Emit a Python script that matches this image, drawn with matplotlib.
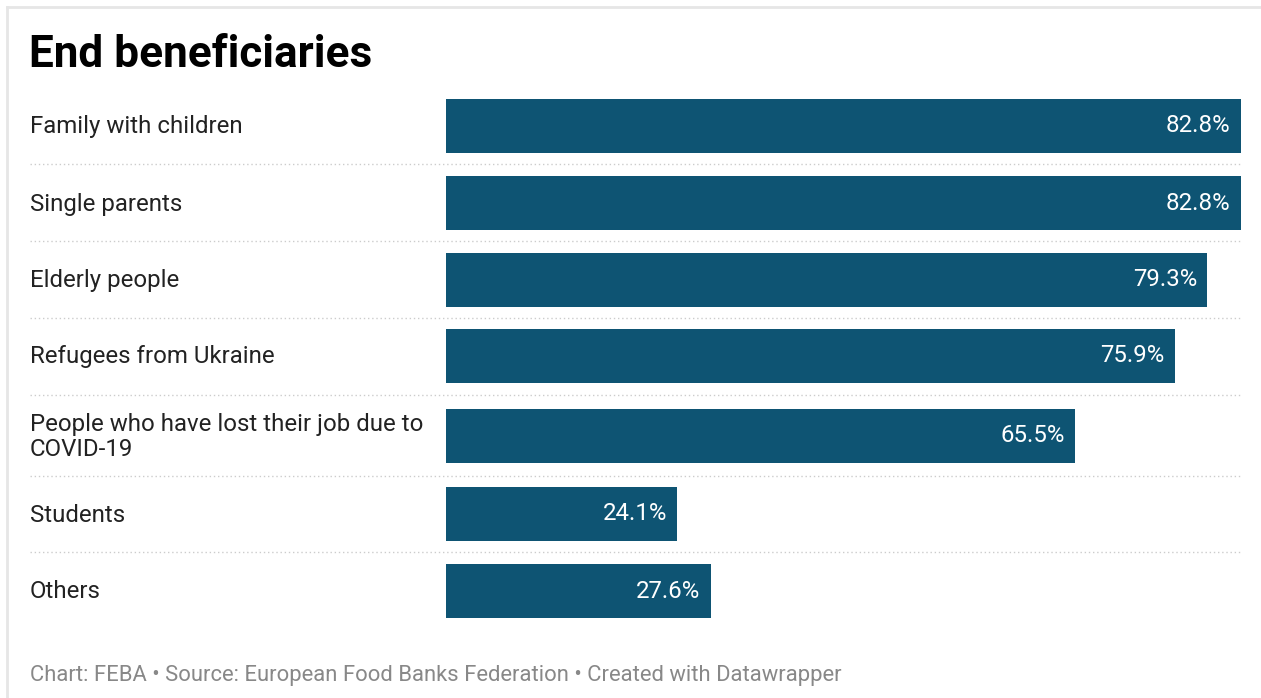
import matplotlib
matplotlib.use('Agg')
import matplotlib.pyplot as plt
from matplotlib.lines import Line2D

categories = ["Family with children", "Single parents", "Elderly people",
              "Refugees from Ukraine",
              "People who have lost their job due to\nCOVID-19",
              "Students", "Others"]
values = [82.8, 82.8, 79.3, 75.9, 65.5, 24.1, 27.6]
value_labels = ["82.8%", "82.8%", "79.3%", "75.9%", "65.5%", "24.1%", "27.6%"]

W, H = 1261, 698
plt.rcParams['font.family'] = ['Roboto', 'DejaVu Sans']

fig = plt.figure(figsize=(W / 100, H / 100), dpi=100)
fig.patch.set_facecolor('white')

# bar centres in pixel rows (the COVID row is a bit taller)
row_y = [126, 203, 280, 356, 436, 514, 591]
bar_h = 54

ax = fig.add_axes([446 / W, 0, 795 / W, 1])
ax.set_xlim(0, 82.8)
ax.set_ylim(H, 0)
ax.axis('off')
ax.barh(row_y, values, height=bar_h, color='#0e5473', edgecolor='none')

for y, v, lab in zip(row_y, values, value_labels):
    ax.annotate(lab, (v, y), xytext=(-7.5, 0), textcoords='offset points',
                ha='right', va='center', color='white', fontsize=17.3)

for y, cat in zip(row_y, categories):
    fig.text(30 / W, 1 - (y + 1) / H, cat, ha='left', va='center', fontsize=17.3,
             color='#222222', linespacing=1.15)

# dotted separators
for sy in [164, 241, 318, 395, 476, 552]:
    fig.add_artist(Line2D([30 / W, 1241 / W], [1 - sy / H, 1 - sy / H],
                          color='#cccccc', lw=1, linestyle=(0, (1, 2))))

# outer frame lines (top and left)
fig.add_artist(Line2D([7 / W, 1], [1 - 7 / H, 1 - 7 / H], color='#e6e6e6', lw=2))
fig.add_artist(Line2D([7 / W, 7 / W], [0, 1 - 7 / H], color='#e6e6e6', lw=2))

fig.text(29 / W, 1 - 55 / H, "End beneficiaries", ha='left', va='center',
         fontsize=31.8, fontweight='bold', color='black')

fig.text(30 / W, 1 - 675 / H,
         "Chart: FEBA \u2022 Source: European Food Banks Federation \u2022 Created with Datawrapper",
         ha='left', va='center', fontsize=15.8, color='#888888')

fig.savefig('out.png', dpi=100)
